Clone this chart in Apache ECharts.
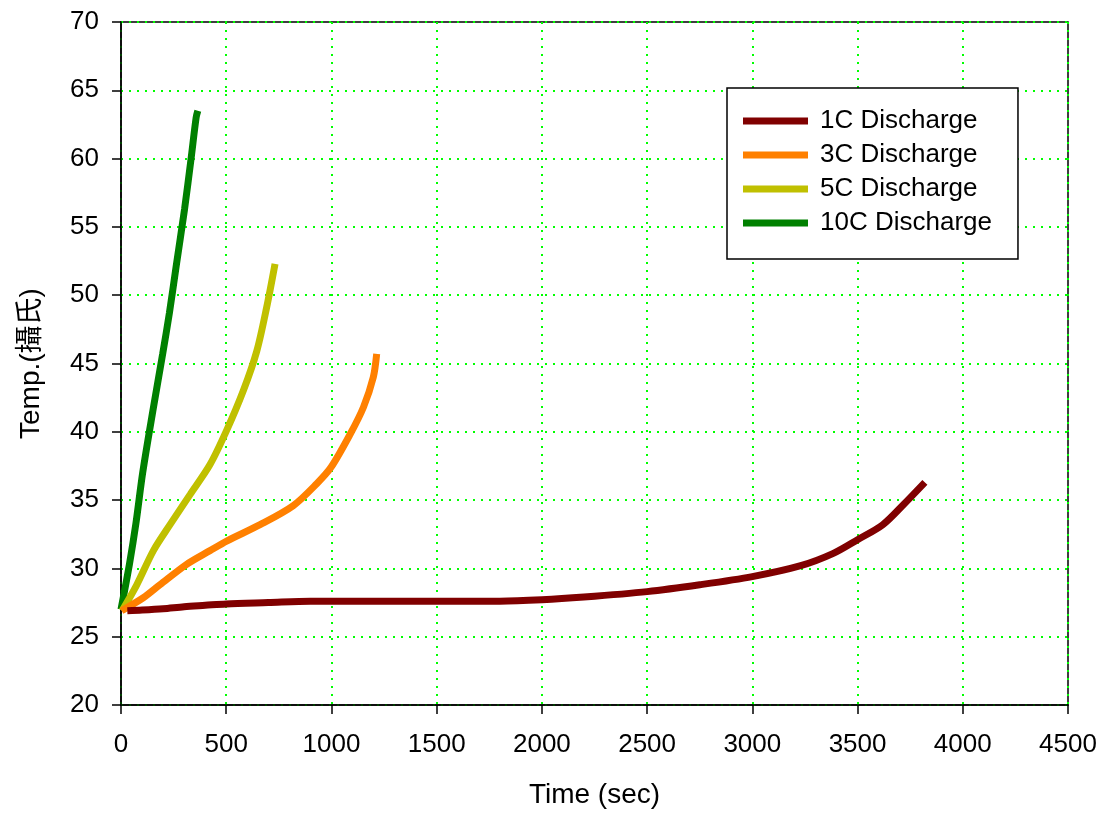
<!DOCTYPE html>
<html>
<head>
<meta charset="utf-8">
<script src="https://cdn.jsdelivr.net/npm/echarts@6/dist/echarts.min.js"></script>
<style>
html,body{margin:0;padding:0;background:#fff;}
#chart{width:1103px;height:814px;}
</style>
</head>
<body>
<div id="chart"></div>
<script>
const seriesNames = ['1C Discharge', '3C Discharge', '5C Discharge', '10C Discharge'];
const seriesColors = ['#800000', '#ff8000', '#c0c000', '#008000'];

const time1C = [30, 100, 200, 300, 400, 500, 700, 900, 1200, 1500, 1800, 2000, 2200, 2500, 2750, 3000, 3230, 3385, 3500, 3620, 3720, 3820];
const temp1C = [26.9, 26.95, 27.05, 27.2, 27.3, 27.4, 27.5, 27.6, 27.6, 27.6, 27.6, 27.7, 27.9, 28.3, 28.8, 29.4, 30.2, 31.1, 32.1, 33.2, 34.7, 36.3];

const time3C = [3, 106, 185, 312, 423, 502, 661, 819, 930, 998, 1088, 1152, 1199, 1215];
const temp3C = [26.9, 27.85, 28.8, 30.3, 31.3, 32.0, 33.2, 34.6, 36.2, 37.4, 39.8, 41.8, 44.0, 45.7];

const time5C = [5, 75, 154, 233, 328, 423, 502, 581, 645, 692, 732];
const temp5C = [26.9, 28.8, 31.3, 33.2, 35.4, 37.6, 40.1, 43.0, 45.9, 49.1, 52.3];

const time10C = [0, 40, 71, 103, 151, 198, 230, 262, 302, 333, 357, 365];
const temp10C = [27.0, 30.3, 33.3, 37.0, 41.5, 45.7, 48.7, 52.1, 56.3, 60.0, 63.0, 63.5];

const xTicks = [0, 500, 1000, 1500, 2000, 2500, 3000, 3500, 4000, 4500];
const yTicks = [20, 25, 30, 35, 40, 45, 50, 55, 60, 65, 70];

const xTitle = 'Time (sec)';
const yTitle = 'Temp.(攝氏)';

const FONT = "'Liberation Sans', Arial, 'Noto Sans CJK TC', sans-serif";

function pairs(xs, ys) { return xs.map((x, i) => [x, ys[i]]); }
const allData = [pairs(time1C, temp1C), pairs(time3C, temp3C), pairs(time5C, temp5C), pairs(time10C, temp10C)];

const chart = echarts.init(document.getElementById('chart'), null, {renderer: 'canvas'});
chart.setOption({
  backgroundColor: '#ffffff',
  animation: false,
  textStyle: {fontFamily: FONT},
  grid: {left: 121, right: 35, top: 22, bottom: 109, show: true, borderColor: '#000', borderWidth: 1.5, backgroundColor: 'transparent'},
  legend: {
    orient: 'vertical', left: 727, top: 88,
    data: seriesNames,
    icon: 'rect', itemWidth: 65, itemHeight: 7, itemGap: 0,
    padding: [16, 26, 19, 16],
    borderColor: '#000', borderWidth: 1.5, backgroundColor: '#fff',
    textStyle: {fontFamily: FONT, fontSize: 26, color: '#000', lineHeight: 34, padding: [0, 0, 0, 7]}
  },
  xAxis: {
    type: 'value', min: xTicks[0], max: xTicks[xTicks.length - 1], interval: 500,
    name: xTitle, nameLocation: 'middle', nameGap: 76,
    nameTextStyle: {fontFamily: FONT, fontSize: 28, color: '#000'},
    axisLine: {show: true, onZero: false, lineStyle: {color: '#000', width: 1.5}},
    axisTick: {show: true, inside: false, length: 9, lineStyle: {color: '#000', width: 1.5}},
    axisLabel: {fontFamily: FONT, fontSize: 26, color: '#000', margin: 27, formatter: v => String(v)},
    splitLine: {show: true, lineStyle: {color: '#00ff00', type: [2, 6], width: 2}}
  },
  yAxis: {
    type: 'value', min: yTicks[0], max: yTicks[yTicks.length - 1], interval: 5,
    name: yTitle, nameLocation: 'middle', nameGap: 76, nameRotate: 90,
    nameTextStyle: {fontFamily: FONT, fontSize: 28, color: '#000'},
    axisLine: {show: true, onZero: false, lineStyle: {color: '#000', width: 1.5}},
    axisTick: {show: true, inside: false, length: 9, lineStyle: {color: '#000', width: 1.5}},
    axisLabel: {fontFamily: FONT, fontSize: 26, color: '#000', margin: 22, formatter: v => String(v)},
    splitLine: {show: true, lineStyle: {color: '#00ff00', type: [2, 6], width: 2}}
  },
  series: seriesNames.map((n, i) => ({
    name: n, type: 'line', data: allData[i], showSymbol: false, symbol: 'none',
    smooth: 0.3,
    lineStyle: {color: seriesColors[i], width: 7},
    itemStyle: {color: seriesColors[i]},
    z: 10 - i
  }))
});
</script>
</body>
</html>
